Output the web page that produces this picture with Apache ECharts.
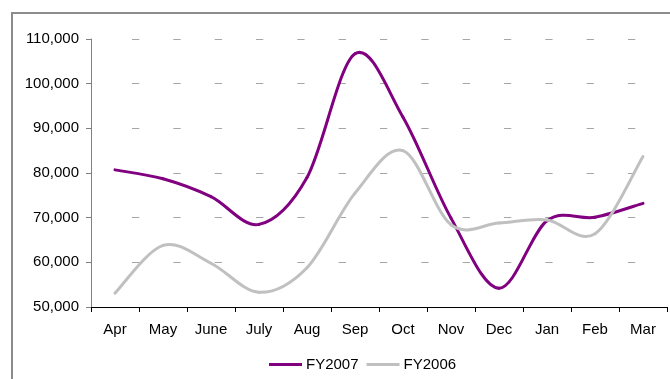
<!DOCTYPE html>
<html>
<head>
<meta charset="utf-8">
<script src="https://cdn.jsdelivr.net/npm/echarts@6/dist/echarts.min.js"></script>
<style>
  html, body { margin: 0; padding: 0; background: #fff; }
  #chart { width: 670px; height: 379px; }
</style>
</head>
<body>
<div id="chart"></div>
<script>
// Monthly volumes by fiscal year (April to March)
const months = ['Apr', 'May', 'June', 'July', 'Aug', 'Sep', 'Oct', 'Nov', 'Dec', 'Jan', 'Feb', 'Mar'];
const fy2007 = [80700, 78700, 74700, 68500, 79000, 106700, 92500, 69900, 54200, 69300, 70100, 73200];
const fy2006 = [53100, 63800, 59800, 53300, 58800, 75500, 85000, 68400, 68800, 69500, 66400, 83700];
const yMin = 50000;
const yMax = 110000;
const yStep = 10000;

// Short dashes for horizontal gridlines: leading gap, then evenly spaced dashes
const gridDash = [0, 41];
for (let i = 0; i < 13; i++) gridDash.push(7.3, 34.03);

const fontFamily = '"Liberation Sans", Arial, sans-serif';

// Smooth line drawn as cardinal (Catmull-Rom) Bezier segments between
// consecutive points; each data item draws the segment to the next one.
function smoothSegments(values, color) {
  return function (params, api) {
    const i = params.dataIndex;
    const n = values.length;
    if (i >= n - 1) return null;
    const pt = k => api.coord([Math.max(0, Math.min(n - 1, k)), values[Math.max(0, Math.min(n - 1, k))]]);
    const p0 = pt(i - 1), p1 = pt(i), p2 = pt(i + 1), p3 = pt(i + 2);
    const t = 1 / 6;
    return {
      type: 'bezierCurve',
      shape: {
        x1: p1[0], y1: p1[1],
        cpx1: p1[0] + (p2[0] - p0[0]) * t, cpy1: p1[1] + (p2[1] - p0[1]) * t,
        cpx2: p2[0] - (p3[0] - p1[0]) * t, cpy2: p2[1] - (p3[1] - p1[1]) * t,
        x2: p2[0], y2: p2[1]
      },
      style: { stroke: color, lineWidth: 3, fill: null, lineCap: 'round' },
      silent: true
    };
  };
}

const chart = echarts.init(document.getElementById('chart'), null, { renderer: 'canvas' });

chart.setOption({
  animation: false,
  backgroundColor: '#ffffff',
  graphic: [{
    type: 'rect',
    shape: { x: 12, y: 13, width: 720, height: 420 },
    style: { fill: null, stroke: '#8c8c8c', lineWidth: 2 },
    silent: true,
    z: -1
  }],
  grid: { left: 91, top: 39, width: 576, height: 268, containLabel: false },
  legend: {
    data: ['FY2007', 'FY2006'],
    left: 264,
    top: 352,
    icon: 'rect',
    itemWidth: 33,
    itemHeight: 3,
    itemGap: 8,
    textStyle: { fontFamily: fontFamily, fontSize: 15, color: '#000', padding: [0, 0, 0, -1] }
  },
  xAxis: {
    type: 'category',
    data: months,
    boundaryGap: true,
    axisLine: { lineStyle: { color: '#000', width: 1 } },
    axisTick: { show: true, length: 5, alignWithLabel: false, lineStyle: { color: '#000' } },
    axisLabel: { margin: 15, fontFamily: fontFamily, fontSize: 15, color: '#000', interval: 0 },
    splitLine: { show: false }
  },
  yAxis: {
    type: 'value',
    min: yMin,
    max: yMax,
    interval: yStep,
    axisLine: { show: true, lineStyle: { color: '#808080', width: 1 } },
    axisTick: { show: true, length: 5, lineStyle: { color: '#808080' } },
    axisLabel: {
      margin: 12,
      fontFamily: fontFamily,
      fontSize: 15,
      color: '#000',
      formatter: v => v.toLocaleString('en-US')
    },
    splitLine: { show: true, lineStyle: { color: '#a6a6a6', width: 1, type: gridDash } }
  },
  series: [
    {
      name: 'FY2007',
      type: 'custom',
      data: fy2007.map((v, i) => [i, v]),
      encode: { x: 0, y: 1 },
      renderItem: smoothSegments(fy2007, '#800080'),
      itemStyle: { color: '#800080' }
    },
    {
      name: 'FY2006',
      type: 'custom',
      data: fy2006.map((v, i) => [i, v]),
      encode: { x: 0, y: 1 },
      renderItem: smoothSegments(fy2006, '#c0c0c0'),
      itemStyle: { color: '#c0c0c0' }
    }
  ]
});
</script>
</body>
</html>
